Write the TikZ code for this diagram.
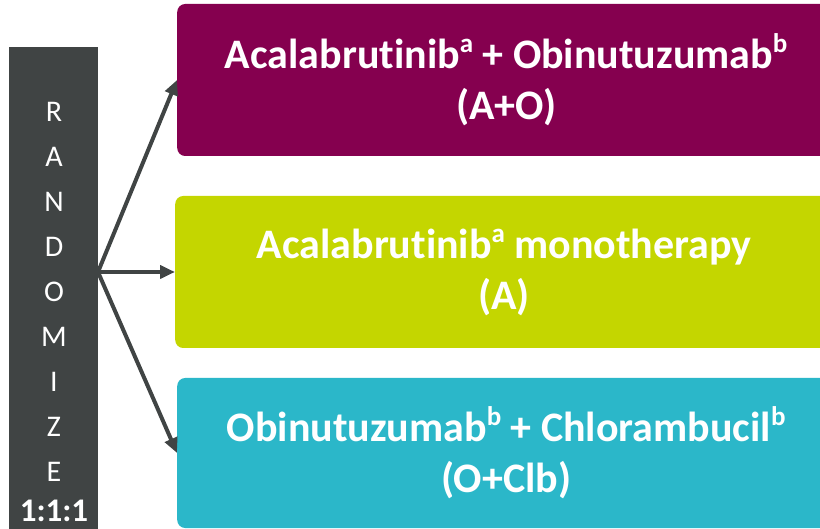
\documentclass[tikz,border=0pt]{standalone}
\usepackage{fontspec}
\setmainfont{Carlito}[Ligatures=NoCommon]
\usetikzlibrary{positioning,arrows.meta}
\definecolor{barclr}{RGB}{64,68,68}
\definecolor{aoclr}{RGB}{133,0,79}
\definecolor{aclr}{RGB}{196,214,0}
\definecolor{oclbclr}{RGB}{43,183,201}
\newcommand{\supmark}[1]{\raisebox{0.38em}{\fontsize{27}{27}\selectfont\bfseries #1}}
\tikzset{
  arm/.style={rounded corners=8pt, minimum width=658pt, anchor=west, inner sep=0pt,
    text=white, align=center, font=\fontsize{42}{51}\selectfont\bfseries},
  link/.style={draw=barclr, line width=4pt, -{Triangle[length=15pt,width=13pt]}}}

\begin{document}
\begin{tikzpicture}[x=1pt,y=-1pt]
\clip (0,0) rectangle (820,529);
\node[fill=barclr, minimum width=89pt, minimum height=500pt, inner sep=0pt] (bar) at (53.5,297) {};
\node[text=white, align=center, font=\fontsize{30}{45}\selectfont] (word) at (54,292) {R\\A\\N\\D\\O\\M\\I\\Z\\E};
\node[text=white, font=\fontsize{33}{36}\selectfont\bfseries] (ratio) at (54,511) {1:1:1};
\node[arm, fill=aoclr, minimum height=152pt] (ao) at (177,80)
  {Acalabrutinib\supmark{a} + Obinutuzumab\supmark{b}\\(A+O)};
\node[arm, fill=aclr, minimum height=152pt] (a) at (175,272)
  {Acalabrutinib\supmark{a} monotherapy\\(A)};
\node[arm, fill=oclbclr, minimum height=150pt] (oclb) at (177,453)
  {Obinutuzumab\supmark{b} + Chlorambucil\supmark{b}\\(O+Clb)};
\coordinate (fork) at (98,272);
\draw[link] (fork) -- (ao.west);
\draw[link] (fork) -- (a.west);
\draw[link] (fork) -- (oclb.west);
\end{tikzpicture}
\end{document}
